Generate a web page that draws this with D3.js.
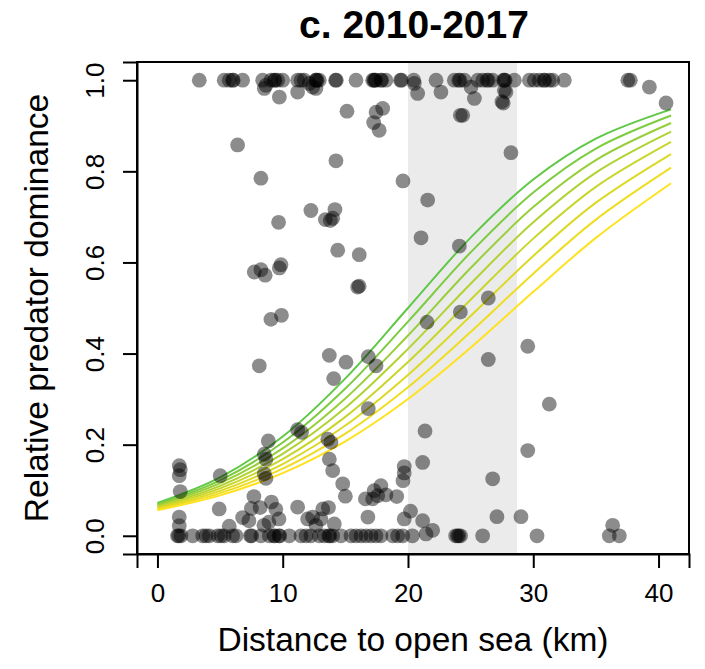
<!DOCTYPE html>
<html>
<head>
<meta charset="utf-8">
<script src="https://cdn.jsdelivr.net/npm/d3@7"></script>
<style>
  html, body { margin: 0; padding: 0; background: #fff; }
  svg text { font-family: "Liberation Sans", Arial, sans-serif; fill: #000; }
</style>
</head>
<body>
<svg id="chart" width="705" height="669"></svg>
<script>
// ---------- data ----------
const title = "c. 2010-2017";
const xLabel = "Distance to open sea (km)";
const yLabel = "Relative predator dominance";
const xTicks = [0, 10, 20, 30, 40];
const yTicks = [0, 0.2, 0.4, 0.6, 0.8, 1.0];
const xDataMax = 40.8;
const bandRange = [20, 28.7];

// observations at exactly 1.0
const onesX = [3.34, 5.33, 5.73, 6.0, 6.05, 6.8, 8.4, 9.06, 9.33, 9.38, 9.6, 10.0, 11.19, 11.46, 11.72,
  12.62, 12.68, 12.75, 12.92, 14.22, 14.28, 15.85, 17.18, 17.28, 17.35, 17.42, 17.84, 17.9, 18.24,
  19.4, 19.48, 20.46, 22.24, 23.7, 24.05, 24.15, 24.5, 25.57, 25.97, 26.3, 26.42, 26.76, 27.62,
  27.69, 27.76, 28.49, 29.69, 30.08, 30.48, 30.85, 30.92, 31.28, 31.55, 32.48, 37.55, 37.75];

// observations at exactly 0.0
const zerosX = [1.6, 1.7, 1.88, 2.81, 3.61, 3.87, 4.14, 4.81, 5.07, 5.33, 6.0, 6.27, 7.42, 7.52, 8.26,
  8.93, 9.3, 9.36, 9.7, 9.76, 10.52, 11.46, 11.86, 12.25, 12.92, 13.32, 13.68, 13.76, 13.99, 14.65,
  15.45, 15.85, 16.25, 16.65, 17.05, 17.45, 17.84, 18.78, 19.18, 19.58, 20.35, 23.8, 23.95, 24.05,
  24.2, 25.96, 30.3, 36.07, 36.87];

// observations in between
const midX = [8.66, 8.53, 9.73, 11.19, 12.12, 12.39, 12.65, 20.5, 20.77, 22.63, 25.03, 25.3, 27.69, 27.82,
  27.5, 27.6, 24.37, 24.18, 39.27, 40.6,
  15.13, 17.45, 17.98, 17.26, 17.7, 6.4, 14.25, 8.26, 19.6, 28.22, 12.25, 14.17, 13.4, 13.99, 13.8,
  9.67, 21.57, 14.39, 16.11, 21.04, 24.1, 7.73, 8.26, 8.6, 9.73, 9.86, 15.98, 16.1, 26.41, 24.18,
  21.52, 9.06, 9.9, 8.13, 13.72, 15.05, 14.07, 16.83, 17.45, 26.41, 29.56, 31.28, 16.83, 11.19, 11.5,
  8.85, 13.6, 13.85, 21.36, 29.56, 21.17, 26.76,
  1.74, 1.82, 1.74, 1.82, 1.74, 1.74, 5.01, 4.93, 5.73, 8.53, 8.66, 8.53, 8.66, 7.7, 7.5, 8.2, 6.8,
  7.3, 9.1, 9.45, 9.7, 8.9, 8.5,
  11.19, 11.99, 12.39, 12.65, 13.2, 13.65, 13.05, 14.12, 13.72, 13.99, 14.79, 15.0, 16.6, 17.18,
  17.58, 17.3, 17.84, 18.24, 16.8, 19.1, 19.7, 19.7, 19.6, 19.7, 20.2, 21.17, 21.97, 21.44, 27.1,
  29.02, 36.34];
const midY = [0.989, 0.982, 0.963, 0.974, 0.993, 0.985, 0.982, 0.993, 0.971, 0.974, 0.985, 0.96, 0.978, 0.974,
  0.953, 0.95, 0.923, 0.923, 0.985, 0.95,
  0.932, 0.93, 0.938, 0.907, 0.89, 0.858, 0.823, 0.785, 0.779, 0.841, 0.714, 0.716, 0.694, 0.697, 0.692,
  0.688, 0.737, 0.627, 0.617, 0.654, 0.636, 0.579, 0.584, 0.572, 0.588, 0.595, 0.546, 0.548, 0.522, 0.491,
  0.469, 0.475, 0.484, 0.373, 0.396, 0.381, 0.345, 0.393, 0.373, 0.387, 0.416, 0.289, 0.279, 0.233, 0.227,
  0.208, 0.212, 0.205, 0.23, 0.187, 0.161, 0.125,
  0.154, 0.145, 0.132, 0.097, 0.041, 0.022, 0.132, 0.059, 0.021, 0.179, 0.168, 0.136, 0.126, 0.086, 0.06, 0.062, 0.04,
  0.033, 0.074, 0.058, 0.037, 0.03, 0.023,
  0.063, 0.037, 0.041, 0.023, 0.059, 0.062, 0.037, 0.026, 0.168, 0.143, 0.114, 0.087, 0.081, 0.081,
  0.088, 0.099, 0.11, 0.09, 0.041, 0.086, 0.152, 0.138, 0.121, 0.037, 0.054, 0.033, 0.012, 0.004, 0.042,
  0.042, 0.023];

// fitted curves, top (green) to bottom (yellow)
const fitX = [0, 5, 10, 15, 20, 25, 30, 35, 41];
const fit1 = [0.0720, 0.1282, 0.2179, 0.3455, 0.5000, 0.6545, 0.7821, 0.8718, 0.9361];
const fit2 = [0.0695, 0.1218, 0.2047, 0.3233, 0.4700, 0.6221, 0.7534, 0.8501, 0.9226];
const fit3 = [0.0670, 0.1155, 0.1919, 0.3014, 0.4396, 0.5877, 0.7215, 0.8248, 0.9061];
const fit4 = [0.0647, 0.1097, 0.1799, 0.2809, 0.4102, 0.5533, 0.6880, 0.7971, 0.8870];
const fit5 = [0.0624, 0.1040, 0.1684, 0.2610, 0.3813, 0.5181, 0.6523, 0.7659, 0.8645];
const fit6 = [0.0602, 0.0986, 0.1575, 0.2420, 0.3530, 0.4824, 0.6143, 0.7312, 0.8380];
const fit7 = [0.0581, 0.0936, 0.1473, 0.2243, 0.3261, 0.4474, 0.5754, 0.6940, 0.8080];
const fit8 = [0.0560, 0.0887, 0.1375, 0.2073, 0.3001, 0.4128, 0.5354, 0.6540, 0.7738];
const fitColors = ["#5fc846", "#7dcc40", "#97cf3a", "#b0d332", "#c8d62b", "#dcd925", "#eedd21", "#ffe21f"];

// ---------- drawing ----------
const svg = d3.select("#chart");
const L = 137, R = 689, T = 62, B = 554;

const x = d3.scaleLinear().domain([-0.04 * xDataMax, 1.04 * xDataMax]).range([L, R]);
const y = d3.scaleLinear().domain([-0.04, 1.04]).range([B, T]);

// grey band
svg.append("rect")
  .attr("x", x(bandRange[0])).attr("y", T)
  .attr("width", x(bandRange[1]) - x(bandRange[0])).attr("height", B - T)
  .attr("fill", "#ebebeb");

// curves
const fits = [fit1, fit2, fit3, fit4, fit5, fit6, fit7, fit8];
const line = d3.line().x(d => x(d[0])).y(d => y(d[1])).curve(d3.curveCatmullRom.alpha(0.5));
fits.forEach((f, i) => {
  svg.append("path")
    .attr("d", line(fitX.map((v, j) => [v, f[j]])))
    .attr("fill", "none")
    .attr("stroke", fitColors[i])
    .attr("stroke-width", 2);
});

// points
const pts = []
  .concat(onesX.map(v => [v, 1]))
  .concat(zerosX.map(v => [v, 0]))
  .concat(midX.map((v, i) => [v, midY[i]]));
svg.append("g").selectAll("circle").data(pts).join("circle")
  .attr("cx", d => x(d[0])).attr("cy", d => y(d[1]))
  .attr("r", 7.4)
  .attr("fill", "#000").attr("fill-opacity", 0.45);

// box
svg.append("rect")
  .attr("x", L).attr("y", T).attr("width", R - L).attr("height", B - T)
  .attr("fill", "none").attr("stroke", "#000").attr("stroke-width", 2);

// x axis
const gx = svg.append("g").attr("transform", `translate(0,${B})`)
  .call(d3.axisBottom(x).tickValues(xTicks).tickSize(14).tickPadding(16).tickFormat(d3.format("d")));
gx.select(".domain").attr("stroke-width", 2);
gx.selectAll(".tick line").attr("stroke-width", 2);
gx.selectAll(".tick text").style("font-size", "26px").style("font-family", "Liberation Sans, Arial, sans-serif");

// y axis
const gy = svg.append("g").attr("transform", `translate(${L},0)`)
  .call(d3.axisLeft(y).tickValues(yTicks).tickSize(14).tickFormat(d3.format(".1f")));
gy.select(".domain").attr("stroke-width", 2);
gy.selectAll(".tick line").attr("stroke-width", 2);
gy.selectAll(".tick text")
  .attr("x", null).attr("dy", null)
  .attr("text-anchor", "middle")
  .attr("transform", "translate(-33,0) rotate(-90)")
  .style("font-size", "26px").style("font-family", "Liberation Sans, Arial, sans-serif");

// title & labels
svg.append("text").attr("x", (L + R) / 2 + 1).attr("y", 38)
  .attr("text-anchor", "middle").style("font-size", "39px").style("font-weight", "bold")
  .text(title);
svg.append("text").attr("x", (L + R) / 2).attr("y", 651)
  .attr("text-anchor", "middle").style("font-size", "33.5px")
  .text(xLabel);
svg.append("text").attr("transform", `translate(48,${(T + B) / 2}) rotate(-90)`)
  .attr("text-anchor", "middle").style("font-size", "33.5px")
  .text(yLabel);
</script>
</body>
</html>
